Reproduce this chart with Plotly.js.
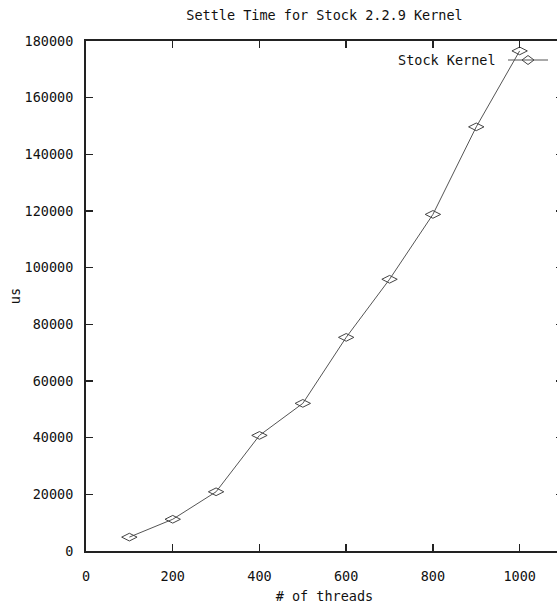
<!DOCTYPE html>
<html>
<head>
<meta charset="utf-8">
<script src="https://cdn.plot.ly/plotly-3.0.1.min.js"></script>
<style>
html,body{margin:0;padding:0;overflow:hidden;background:#fff;}
#chart{width:570px;height:610px;}
</style>
</head>
<body>
<div id="chart"></div>
<script>
// Data
const threads = [100, 200, 300, 400, 500, 600, 700, 800, 900, 1000];
const settleUs = [4900, 11200, 20900, 40800, 52100, 75400, 95900, 118800, 149700, 176500];
const seriesName = "Stock Kernel";
const xTicks = [0, 200, 400, 600, 800, 1000];
const yTicks = [0, 20000, 40000, 60000, 80000, 100000, 120000, 140000, 160000, 180000];

const FONT = "DejaVu Sans Mono, Liberation Mono, monospace";
const W = 570, H = 610;
const L = 86, R = 7, T = 41, B = 59;
const pw = W - L - R, ph = H - T - B;
function px(x){ return (x - L) / pw; }
function py(y){ return (H - B - y) / ph; }

const trace = {
  x: threads, y: settleUs, name: seriesName,
  type: "scatter", mode: "lines+markers",
  line: {color: "#555", width: 1},
  marker: {symbol: "diamond-wide-open", size: 11, color: "#444", line: {width: 1, color: "#444"}},
  showlegend: false, cliponaxis: false
};

// legend key (gnuplot style: text then sample)
const lx0 = px(508), lx1 = px(548), lyc = py(60);
const mx = 528, my = 60, mw = 6, mh = 4.5;
const layout = {
  width: W, height: H,
  margin: {l: L, r: R, t: T, b: B},
  paper_bgcolor: "#fff", plot_bgcolor: "#fff",
  font: {family: FONT, size: 13.5, color: "#111"},
  title: {text: "Settle Time for Stock 2.2.9 Kernel", font: {family: FONT, size: 13.5, color: "#111"},
          xref: "paper", x: 0.5, xanchor: "center", yref: "container", y: 1 - 15/H, yanchor: "middle"},
  xaxis: {
    range: [0, 1100], tickvals: xTicks, ticktext: xTicks.map(String),
    showgrid: false, zeroline: false,
    showline: true, linecolor: "#222", linewidth: 2, mirror: "ticks",
    ticks: "inside", ticklen: 7, tickwidth: 1.5, tickcolor: "#222",
    ticklabelstandoff: 12,
    tickfont: {family: FONT, size: 13.5, color: "#111"},
    title: {text: "# of threads", font: {family: FONT, size: 13.5, color: "#111"}, standoff: 8}
  },
  yaxis: {
    range: [0, 180000], tickvals: yTicks, ticktext: yTicks.map(String),
    showgrid: false, zeroline: false,
    showline: true, linecolor: "#222", linewidth: 2, mirror: "ticks",
    ticks: "inside", ticklen: 7, tickwidth: 1.5, tickcolor: "#222",
    ticklabelstandoff: 8,
    tickfont: {family: FONT, size: 13.5, color: "#111"},
    title: {text: "us", font: {family: FONT, size: 13.5, color: "#111"}, standoff: 1}
  },
  annotations: [
    {text: seriesName, xref: "paper", yref: "paper", x: px(498), y: lyc,
     xanchor: "right", yanchor: "middle", showarrow: false,
     font: {family: FONT, size: 13.5, color: "#111"}}
  ],
  shapes: [
    {type: "line", xref: "paper", yref: "paper", x0: lx0, x1: lx1, y0: lyc, y1: lyc,
     line: {color: "#555", width: 1}},
    {type: "path", xref: "paper", yref: "paper",
     path: `M ${px(mx-mw)} ${py(my)} L ${px(mx)} ${py(my-mh)} L ${px(mx+mw)} ${py(my)} L ${px(mx)} ${py(my+mh)} Z`,
     line: {color: "#444", width: 1}}
  ]
};

Plotly.newPlot("chart", [trace], layout, {displayModeBar: false, staticPlot: true});
</script>
</body>
</html>
